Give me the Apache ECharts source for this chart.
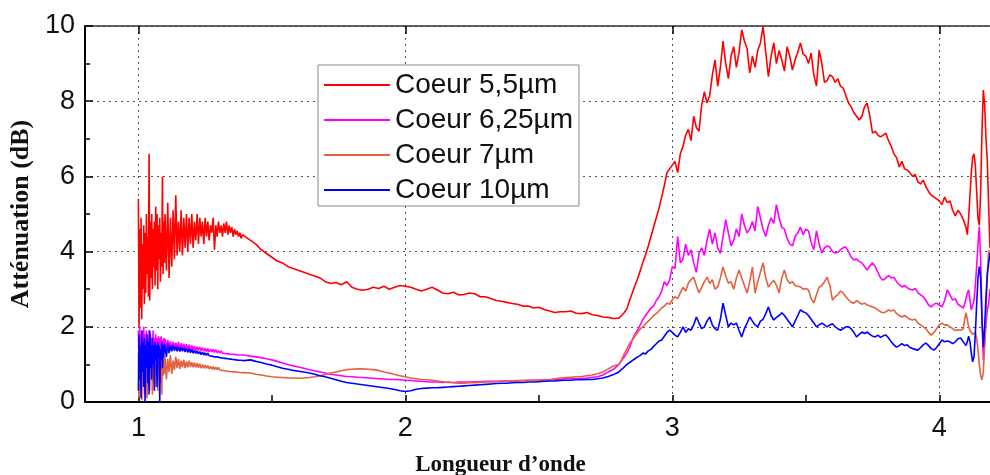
<!DOCTYPE html>
<html>
<head>
<meta charset="utf-8">
<script src="https://cdn.jsdelivr.net/npm/echarts@6/dist/echarts.min.js"></script>
<style>
html, body { margin: 0; padding: 0; background: #fff; }
#chart { width: 990px; height: 475px; }
</style>
</head>
<body>
<div id="chart"></div>
<script>
// longueur d'onde (x) -- echantillonnage commun aux 4 courbes
var wavelength = [
	1.0000, 1.0025, 1.0050, 1.0075, 1.0100, 1.0125, 1.0150, 1.0175, 1.0200, 1.0225,
	1.0250, 1.0275, 1.0300, 1.0325, 1.0350, 1.0375, 1.0400, 1.0425, 1.0450, 1.0475,
	1.0500, 1.0525, 1.0550, 1.0575, 1.0600, 1.0625, 1.0650, 1.0675, 1.0700, 1.0725,
	1.0750, 1.0775, 1.0800, 1.0825, 1.0850, 1.0875, 1.0900, 1.0925, 1.0950, 1.0975,
	1.100, 1.105, 1.110, 1.115, 1.120, 1.125, 1.130, 1.135, 1.140, 1.145,
	1.150, 1.155, 1.160, 1.165, 1.170, 1.175, 1.180, 1.185, 1.190, 1.195,
	1.200, 1.205, 1.210, 1.215, 1.220, 1.225, 1.230, 1.235, 1.240, 1.245,
	1.250, 1.255, 1.260, 1.265, 1.270, 1.275, 1.280, 1.285, 1.290, 1.295,
	1.300, 1.305, 1.310, 1.315, 1.320, 1.325, 1.330, 1.335, 1.340, 1.345,
	1.350, 1.355, 1.360, 1.365, 1.370, 1.375, 1.380, 1.385, 1.390, 1.395,
	1.40, 1.42, 1.44, 1.46, 1.48, 1.50, 1.52, 1.54, 1.56, 1.58,
	1.60, 1.62, 1.64, 1.66, 1.68, 1.70, 1.72, 1.74, 1.76, 1.78,
	1.80, 1.82, 1.84, 1.86, 1.88, 1.90, 1.92, 1.94, 1.96, 1.98,
	2.00, 2.02, 2.04, 2.06, 2.08, 2.10, 2.12, 2.14, 2.16, 2.18,
	2.20, 2.22, 2.24, 2.26, 2.28, 2.30, 2.32, 2.34, 2.36, 2.38,
	2.40, 2.42, 2.44, 2.46, 2.48, 2.50, 2.52, 2.54, 2.56, 2.58,
	2.60, 2.62, 2.64, 2.66, 2.68, 2.70, 2.72, 2.74, 2.76, 2.78,
	2.80, 2.81, 2.82, 2.83, 2.84, 2.85, 2.86, 2.87, 2.88, 2.89,
	2.90, 2.91, 2.92, 2.93, 2.94, 2.95, 2.96, 2.97, 2.98, 2.99,
	3.00, 3.01, 3.02, 3.03, 3.04, 3.05, 3.06, 3.07, 3.08, 3.09,
	3.10, 3.11, 3.12, 3.13, 3.14, 3.15, 3.16, 3.17, 3.18, 3.19,
	3.20, 3.21, 3.22, 3.23, 3.24, 3.25, 3.26, 3.27, 3.28, 3.29,
	3.30, 3.31, 3.32, 3.33, 3.34, 3.35, 3.36, 3.37, 3.38, 3.39,
	3.40, 3.41, 3.42, 3.43, 3.44, 3.45, 3.46, 3.47, 3.48, 3.49,
	3.50, 3.51, 3.52, 3.53, 3.54, 3.55, 3.56, 3.57, 3.58, 3.59,
	3.60, 3.61, 3.62, 3.63, 3.64, 3.65, 3.66, 3.67, 3.68, 3.69,
	3.70, 3.71, 3.72, 3.73, 3.74, 3.75, 3.76, 3.77, 3.78, 3.79,
	3.80, 3.81, 3.82, 3.83, 3.84, 3.85, 3.86, 3.87, 3.88, 3.89,
	3.90, 3.91, 3.92, 3.93, 3.94, 3.95, 3.96, 3.97, 3.98, 3.99,
	4.00, 4.01, 4.02, 4.03, 4.04, 4.05, 4.06, 4.07, 4.08, 4.09,
	4.095, 4.100, 4.105, 4.110, 4.115, 4.120, 4.125, 4.130, 4.135, 4.140,
	4.145, 4.150, 4.155, 4.160, 4.165, 4.170, 4.175, 4.180, 4.185, 4.190
];

// Coeur 5,5µm
var coeur55 = [
	5.4, 2.0, 4.6, 2.5, 4.9, 2.2, 4.2, 3.0, 4.7, 2.6,
	4.5, 2.9, 5.0, 3.4, 4.4, 2.8, 6.6, 2.7, 4.8, 3.3,
	5.0, 3.0, 4.6, 3.6, 4.8, 3.1, 5.2, 3.5, 5.0, 3.0,
	4.7, 3.8, 4.9, 3.2, 4.5, 3.6, 6.0, 3.4, 4.8, 3.7,
	5.0, 3.5, 5.3, 3.3, 4.9, 3.6, 5.1, 3.8, 5.5, 3.9,
	4.8, 4.0, 5.1, 3.9, 4.9, 4.1, 5.0, 4.0, 4.9, 4.2,
	5.0, 4.1, 4.8, 4.3, 5.0, 4.2, 4.9, 4.4, 4.8, 4.2,
	4.9, 4.4, 4.8, 4.3, 4.7, 4.5, 4.9, 4.05, 4.7, 4.4,
	4.8, 4.5, 4.7, 4.4, 4.75, 4.5, 4.8, 4.45, 4.7, 4.5,
	4.65, 4.4, 4.6, 4.45, 4.55, 4.4, 4.5, 4.35, 4.45, 4.4,
	4.4, 4.3, 4.2, 4.05, 3.95, 3.85, 3.75, 3.7, 3.6, 3.55,
	3.5, 3.45, 3.4, 3.35, 3.3, 3.2, 3.15, 3.18, 3.12, 3.2,
	3.05, 3.0, 2.97, 3.0, 3.05, 3.02, 3.08, 3.0, 3.05, 3.1,
	3.08, 3.05, 3.0, 2.95, 3.0, 3.05, 2.98, 2.9, 2.88, 2.92,
	2.85, 2.86, 2.9, 2.88, 2.8, 2.8, 2.75, 2.7, 2.68, 2.65,
	2.62, 2.6, 2.55, 2.55, 2.5, 2.52, 2.46, 2.42, 2.38, 2.4,
	2.4, 2.42, 2.36, 2.35, 2.38, 2.32, 2.3, 2.26, 2.25, 2.22,
	2.23, 2.3, 2.38, 2.48, 2.7, 2.9, 3.1, 3.28, 3.5, 3.72,
	3.92, 4.15, 4.4, 4.65, 4.9, 5.15, 5.45, 5.75, 6.1, 6.2,
	6.3, 6.4, 6.1, 6.6, 6.8, 7.1, 7.25, 6.95, 7.6, 7.3,
	7.2, 7.9, 8.25, 7.95, 8.15, 8.7, 9.1, 8.4, 8.9, 9.6,
	9.0, 8.6, 9.2, 9.45, 8.9, 9.3, 9.9, 9.6, 9.4, 8.75,
	9.2, 8.9, 9.35, 9.55, 10.0, 9.3, 8.65, 9.2, 9.55, 9.0,
	9.35, 9.1, 8.8, 9.45, 9.2, 8.83, 9.1, 9.3, 9.55, 9.25,
	9.2, 9.0, 9.28, 8.7, 8.4, 9.36, 9.0, 8.5, 8.55, 8.7,
	8.65, 8.5, 8.6, 8.4, 8.35, 8.15, 7.95, 7.85, 7.7, 7.6,
	7.5, 7.6, 7.85, 7.95, 7.6, 7.15, 7.2, 7.1, 7.05, 7.1,
	7.15, 6.95, 6.8, 6.6, 6.5, 6.25, 6.4, 6.2, 6.17, 6.1,
	6.0, 6.05, 5.85, 5.8, 5.9, 5.72, 5.6, 5.5, 5.45, 5.4,
	5.35, 5.25, 5.45, 5.3, 5.35, 5.1, 4.95, 5.1, 5.0, 4.85,
	4.8, 4.65, 4.45, 4.9, 5.5, 6.1, 6.5, 6.6, 6.3, 5.6,
	4.9, 4.7, 5.6, 7.2, 8.3, 7.9, 7.0, 6.4, 5.2, 4.1
];

// Coeur 6,25µm
var coeur625 = [
	1.9, 0.8, 2.0, 0.9, 1.8, 1.0, 1.9, 0.9, 2.0, 1.1,
	1.8, 1.0, 1.9, 1.2, 1.7, 1.1, 1.9, 1.2, 1.8, 1.3,
	1.7, 1.2, 1.9, 1.3, 1.7, 1.25, 1.8, 1.35, 1.7, 1.3,
	1.75, 1.4, 1.7, 1.35, 1.75, 1.4, 1.65, 1.4, 1.7, 1.45,
	1.68, 1.42, 1.65, 1.45, 1.62, 1.43, 1.6, 1.44, 1.58, 1.42,
	1.6, 1.44, 1.56, 1.42, 1.55, 1.41, 1.54, 1.4, 1.52, 1.4,
	1.5, 1.39, 1.49, 1.38, 1.47, 1.37, 1.46, 1.36, 1.45, 1.35,
	1.43, 1.34, 1.42, 1.33, 1.41, 1.33, 1.4, 1.32, 1.39, 1.31,
	1.37, 1.3, 1.36, 1.3, 1.35, 1.29, 1.34, 1.28, 1.33, 1.27,
	1.32, 1.27, 1.31, 1.26, 1.3, 1.25, 1.29, 1.25, 1.28, 1.25,
	1.25, 1.22, 1.2, 1.18, 1.15, 1.12, 1.08, 1.04, 1.0, 0.96,
	0.93, 0.9, 0.86, 0.83, 0.8, 0.77, 0.74, 0.72, 0.7, 0.68,
	0.67, 0.66, 0.65, 0.64, 0.63, 0.62, 0.61, 0.6, 0.6, 0.59,
	0.58, 0.57, 0.56, 0.55, 0.54, 0.53, 0.53, 0.52, 0.53, 0.52,
	0.53, 0.53, 0.53, 0.54, 0.54, 0.55, 0.55, 0.55, 0.56, 0.56,
	0.56, 0.57, 0.57, 0.58, 0.58, 0.58, 0.59, 0.59, 0.6, 0.6,
	0.62, 0.63, 0.62, 0.63, 0.64, 0.66, 0.67, 0.72, 0.8, 0.87,
	1.0, 1.1, 1.2, 1.3, 1.45, 1.65, 1.8, 1.92, 2.05, 2.2,
	2.3, 2.4, 2.5, 2.55, 2.7, 2.8, 2.95, 3.2, 3.1, 3.25,
	3.6, 3.55, 4.4, 3.7, 3.8, 4.2, 3.9, 4.05, 3.7, 3.45,
	3.95, 4.1, 3.9, 4.3, 4.6, 4.2, 4.5, 4.1, 3.95, 4.4,
	4.85, 4.5, 4.15, 4.3, 4.6, 4.4, 5.0, 4.7, 4.5, 4.6,
	4.8, 4.55, 5.2, 4.9, 4.6, 4.4, 4.7, 4.9, 4.75, 5.25,
	4.9, 4.65, 4.6, 4.35, 4.2, 4.15, 4.4, 4.5, 4.65, 4.45,
	4.6, 4.55, 4.25, 4.05, 4.55, 4.2, 3.96, 4.1, 4.15, 4.12,
	4.0, 3.96, 3.98, 4.05, 4.1, 4.12, 4.0, 3.85, 3.78, 3.8,
	3.74, 3.7, 3.6, 3.51, 3.62, 3.7, 3.6, 3.45, 3.3, 3.24,
	3.3, 3.36, 3.3, 3.32, 3.2, 3.12, 3.06, 3.1, 3.04, 3.0,
	2.98, 3.02, 2.9, 2.85, 2.8, 2.7, 2.58, 2.53, 2.6, 2.63,
	2.58, 2.53, 2.7, 2.98, 2.85, 2.71, 2.75, 2.6, 2.55, 2.5,
	2.6, 2.75, 2.9, 2.98, 2.7, 2.45, 2.4, 2.7, 3.1, 3.6,
	4.2, 4.66, 3.8, 2.2, 1.12, 1.6, 2.1, 2.45, 2.6, 3.0
];

// Coeur 7µm
var coeur7 = [
	1.3, 0.1, 1.0, 0.3, 1.2, 0.05, 0.9, 0.4, 1.1, 0.2,
	1.25, 0.5, 0.9, 0.1, 1.1, 0.4, 1.2, 0.3, 1.0, 0.6,
	1.2, 0.2, 1.1, 0.5, 1.2, 0.4, 1.0, 0.7, 1.15, 0.3,
	1.1, 0.6, 1.2, 0.5, 1.05, 0.2, 1.1, 0.7, 1.2, 0.75,
	1.2, 0.6, 1.15, 0.8, 1.25, 0.75, 1.1, 0.85, 1.2, 0.9,
	1.15, 0.88, 1.1, 0.92, 1.12, 0.9, 1.08, 0.92, 1.1, 0.93,
	1.06, 0.92, 1.05, 0.92, 1.03, 0.91, 1.02, 0.9, 1.0, 0.9,
	0.98, 0.89, 0.97, 0.88, 0.95, 0.87, 0.94, 0.86, 0.93, 0.86,
	0.92, 0.85, 0.9, 0.84, 0.89, 0.83, 0.88, 0.82, 0.86, 0.81,
	0.85, 0.8, 0.84, 0.8, 0.83, 0.79, 0.82, 0.78, 0.81, 0.78,
	0.79, 0.77, 0.74, 0.72, 0.69, 0.67, 0.66, 0.65, 0.64, 0.64,
	0.63, 0.64, 0.65, 0.67, 0.7, 0.73, 0.77, 0.8, 0.83, 0.86,
	0.87, 0.88, 0.88, 0.87, 0.86, 0.84, 0.8, 0.77, 0.73, 0.7,
	0.67, 0.64, 0.62, 0.6, 0.59, 0.58, 0.56, 0.54, 0.52, 0.51,
	0.5, 0.5, 0.51, 0.51, 0.52, 0.53, 0.53, 0.54, 0.55, 0.55,
	0.56, 0.56, 0.57, 0.57, 0.58, 0.58, 0.59, 0.59, 0.62, 0.64,
	0.65, 0.66, 0.67, 0.68, 0.7, 0.72, 0.75, 0.8, 0.88, 0.96,
	1.0, 1.12, 1.28, 1.42, 1.55, 1.65, 1.75, 1.85, 1.95, 2.0,
	2.08, 2.15, 2.22, 2.3, 2.35, 2.42, 2.5, 2.55, 2.63, 2.6,
	2.72, 2.8, 2.75, 2.9, 3.05, 2.95, 3.16, 3.25, 3.32, 3.1,
	2.9, 3.05, 3.2, 3.32, 3.15, 3.25, 3.0, 3.06, 3.3, 3.59,
	3.35, 3.16, 3.2, 3.0, 3.3, 3.51, 3.3, 3.1, 2.9, 3.2,
	3.59, 2.9, 3.2, 3.45, 3.7, 3.3, 3.06, 3.15, 3.24, 3.1,
	2.9, 3.3, 3.51, 3.25, 3.16, 3.2, 3.1, 3.08, 3.06, 3.0,
	3.02, 2.98, 2.75, 2.63, 2.85, 3.06, 3.1, 3.2, 3.32, 3.1,
	2.71, 2.8, 2.85, 2.95, 2.9, 2.8, 2.72, 2.65, 2.63, 2.7,
	2.65, 2.6, 2.63, 2.58, 2.55, 2.53, 2.5, 2.45, 2.4, 2.37,
	2.4, 2.45, 2.42, 2.45, 2.35, 2.3, 2.26, 2.3, 2.25, 2.2,
	2.18, 2.2, 2.1, 2.05, 2.0, 1.95, 1.85, 1.78, 1.85, 1.95,
	2.05, 2.1, 2.05, 2.05, 2.0, 1.95, 1.9, 1.92, 1.91, 1.95,
	2.2, 2.37, 2.2, 2.0, 1.9, 1.85, 1.8, 1.82, 1.84, 1.7,
	1.4, 1.0, 0.7, 0.59, 0.8, 1.5, 2.4, 3.4, 4.04, 3.9
];

// Coeur 10µm
var coeur10 = [
	0.3, 1.8, 0.6, 1.5, 0.1, 1.9, 0.8, 1.6, 0.4, 1.7,
	0.0, 1.5, 0.9, 1.8, 0.5, 1.6, 0.2, 1.9, 0.9, 1.5,
	0.6, 1.7, 1.0, 1.5, 0.3, 1.6, 1.1, 1.5, 0.4, 1.6,
	1.2, 1.5, 0.0, 1.4, 1.1, 1.6, 0.9, 1.5, 1.2, 1.55,
	1.5, 1.2, 1.55, 1.3, 1.5, 1.35, 1.52, 1.36, 1.48, 1.35,
	1.47, 1.34, 1.46, 1.35, 1.44, 1.33, 1.43, 1.32, 1.42, 1.31,
	1.4, 1.3, 1.38, 1.29, 1.36, 1.28, 1.34, 1.26, 1.33, 1.25,
	1.31, 1.24, 1.3, 1.23, 1.28, 1.22, 1.27, 1.2, 1.25, 1.2,
	1.24, 1.18, 1.23, 1.17, 1.22, 1.16, 1.2, 1.15, 1.19, 1.14,
	1.18, 1.13, 1.17, 1.12, 1.16, 1.11, 1.15, 1.11, 1.14, 1.1,
	1.13, 1.12, 1.08, 1.05, 1.01, 0.98, 0.94, 0.9, 0.87, 0.84,
	0.82, 0.8, 0.77, 0.74, 0.7, 0.67, 0.63, 0.59, 0.55, 0.52,
	0.5, 0.48, 0.46, 0.44, 0.42, 0.4, 0.38, 0.36, 0.33, 0.3,
	0.28, 0.3, 0.34, 0.36, 0.37, 0.38, 0.38, 0.39, 0.4, 0.41,
	0.42, 0.43, 0.44, 0.45, 0.46, 0.47, 0.48, 0.49, 0.5, 0.5,
	0.51, 0.52, 0.52, 0.53, 0.53, 0.54, 0.55, 0.56, 0.56, 0.57,
	0.58, 0.58, 0.59, 0.59, 0.6, 0.6, 0.62, 0.64, 0.68, 0.73,
	0.8, 0.87, 0.93, 1.0, 1.05, 1.1, 1.15, 1.2, 1.24, 1.3,
	1.28, 1.36, 1.4, 1.48, 1.55, 1.62, 1.65, 1.75, 1.85, 1.91,
	1.85, 1.78, 1.73, 1.85, 2.0, 1.85, 1.95, 1.91, 2.05, 2.26,
	2.1, 1.95, 2.0, 2.15, 2.26, 2.05, 1.95, 1.91, 2.2, 2.63,
	2.3, 2.0, 2.1, 2.05, 2.1, 1.9, 1.73, 1.95, 2.1, 2.26,
	2.15, 2.05, 2.0, 2.15, 2.2, 2.35, 2.53, 2.3, 2.18, 2.25,
	2.3, 2.37, 2.3, 2.2, 2.1, 2.0, 2.15, 2.3, 2.45, 2.4,
	2.37, 2.3, 2.2, 2.1, 2.0, 2.05, 2.1, 2.05, 2.0, 2.05,
	2.08, 2.0, 1.95, 1.91, 1.95, 2.0, 2.0, 1.95, 1.85, 1.73,
	1.8, 1.86, 1.82, 1.86, 1.8, 1.75, 1.73, 1.78, 1.72, 1.76,
	1.78, 1.7, 1.6, 1.52, 1.46, 1.5, 1.55, 1.5, 1.52, 1.45,
	1.42, 1.4, 1.38, 1.45, 1.52, 1.57, 1.5, 1.42, 1.38, 1.45,
	1.55, 1.65, 1.6, 1.62, 1.6, 1.55, 1.6, 1.68, 1.7, 1.6,
	1.55, 1.5, 1.6, 1.75, 1.6, 1.3, 1.07, 1.2, 1.8, 2.6,
	3.3, 3.6, 3.3, 2.2, 1.46, 2.0, 2.8, 3.4, 3.7, 3.96
];

var seriesNames = ['Coeur 5,5µm', 'Coeur 6,25µm', 'Coeur 7µm', 'Coeur 10µm'];
var seriesColors = ['#ff0000', '#ff00ff', '#e4603e', '#0000ff'];
var xMajorTicks = [1, 2, 3, 4];
var xAllTicks = [1, 1.5, 2, 2.5, 3, 3.5, 4];

function pairs(ys) {
	return wavelength.map(function (x, i) {
		return [x, ys[i]];
	});
}

var chart = echarts.init(document.getElementById('chart'));

var dotted = { color: '#555', type: [2, 4], width: 1 };
var labelFont = { fontFamily: 'Liberation Sans', fontSize: 27, color: '#111' };

var option = {
	animation: false,
	backgroundColor: '#fff',
	grid: { left: 85, right: 0, top: 26, bottom: 73, outerBoundsMode: 'none' },
	legend: {
		orient: 'vertical',
		left: 318,
		top: 65,
		itemWidth: 66,
		itemHeight: 14,
		itemGap: 7,
		padding: [6, 6, 2, 5],
		borderColor: '#888',
		borderWidth: 1,
		backgroundColor: '#fff',
		itemStyle: { opacity: 0 },
		lineStyle: { width: 2 },
		textStyle: { fontFamily: 'Liberation Sans', fontSize: 28, color: '#111' },
		data: seriesNames
	},
	xAxis: [{
		type: 'value',
		position: 'bottom',
		min: 0.8,
		max: 4.19,
		axisLine: { onZero: false, lineStyle: { color: '#000', width: 2 } },
		axisTick: { inside: true, length: 7, customValues: xAllTicks, lineStyle: { color: '#000', width: 1.5 } },
		axisLabel: Object.assign({ customValues: xMajorTicks, margin: 13 }, labelFont),
		splitLine: { show: false },
		name: 'Longueur d’onde',
		nameLocation: 'middle',
		nameGap: 52,
		nameTextStyle: {
			fontFamily: 'Liberation Serif', fontWeight: 'bold', fontSize: 23, color: '#111',
			padding: [0, 74, 0, 0]
		}
	}, {
		type: 'value',
		position: 'top',
		min: 0.8,
		max: 4.19,
		axisLine: { show: true, onZero: false, lineStyle: { color: '#333', width: 1.5 } },
		axisTick: { inside: true, length: 8, customValues: xMajorTicks, lineStyle: { color: '#000', width: 1.5 } },
		axisLabel: { show: false },
		splitLine: { show: true, lineStyle: dotted }
	}],
	yAxis: {
		type: 'value',
		min: 0,
		max: 10,
		interval: 2,
		axisLine: { show: true, onZero: false, lineStyle: { color: '#000', width: 2 } },
		axisTick: { inside: true, length: 8, lineStyle: { color: '#000', width: 1.5 } },
		minorTick: { show: true, splitNumber: 2, length: 5, lineStyle: { color: '#000', width: 1.5 } },
		axisLabel: Object.assign({ margin: 10 }, labelFont),
		splitLine: { show: true, lineStyle: dotted },
		name: 'Atténuation (dB)',
		nameLocation: 'middle',
		nameGap: 50,
		nameTextStyle: { fontFamily: 'Liberation Serif', fontWeight: 'bold', fontSize: 26, color: '#111' }
	},
	series: [coeur55, coeur625, coeur7, coeur10].map(function (ys, k) {
		return {
			name: seriesNames[k],
			type: 'line',
			xAxisIndex: 0,
			symbol: 'none',
			color: seriesColors[k],
			lineStyle: { width: 1.6, color: seriesColors[k] },
			data: pairs(ys)
		};
	})
};

chart.setOption(option);

window.onresize = function () {
	chart.resize();
};
</script>
</body>
</html>
